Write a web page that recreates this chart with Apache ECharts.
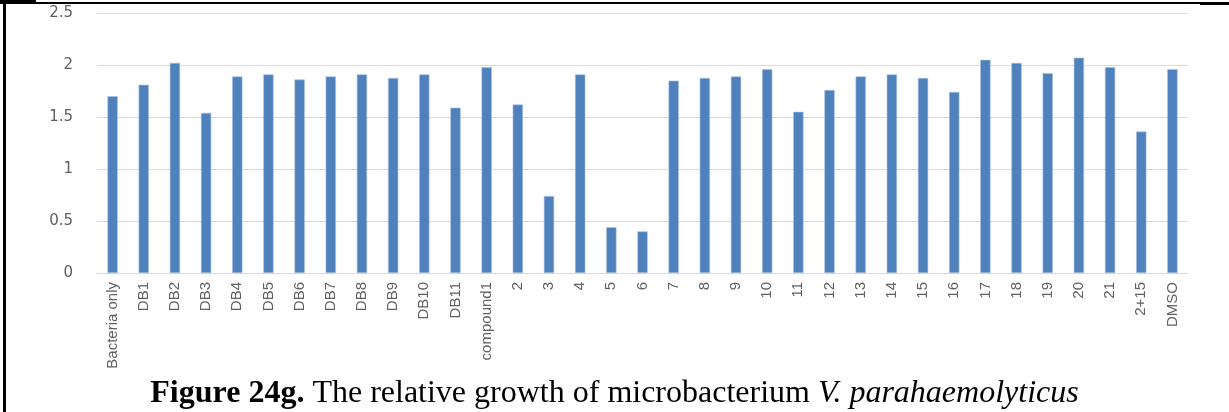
<!DOCTYPE html>
<html>
<head>
<meta charset="utf-8">
<script src="https://cdn.jsdelivr.net/npm/echarts@6/dist/echarts.min.js"></script>
<style>html,body{margin:0;padding:0;background:#fff;}#c{width:1229px;height:412px;}</style>
</head>
<body>
<div id="c"></div>
<script>
const categories = ['Bacteria only','DB1','DB2','DB3','DB4','DB5','DB6','DB7','DB8','DB9','DB10','DB11','compound1','2','3','4','5','6','7','8','9','10','11','12','13','14','15','16','17','18','19','20','21','2+15','DMSO'];
const values = [1.70,1.81,2.02,1.54,1.89,1.91,1.86,1.89,1.91,1.875,1.91,1.59,1.98,1.62,0.74,1.91,0.44,0.40,1.85,1.875,1.89,1.96,1.55,1.76,1.89,1.91,1.875,1.74,2.05,2.02,1.92,2.07,1.98,1.36,1.96];
const yTicks = [0, 0.5, 1, 1.5, 2, 2.5];

const chart = echarts.init(document.getElementById('c'), null, {renderer: 'canvas'});
chart.setOption({
  animation: false,
  backgroundColor: '#ffffff',
  title: {
    left: 'center',
    top: 373,
    text: '{b|Figure 24g.}{n| The relative growth of microbacterium }{i|V. parahaemolyticus}',
    textStyle: {
      fontWeight: 'normal',
      rich: {
        b: {fontFamily: 'Liberation Serif', fontSize: 32, fontWeight: 'bold', color: '#000'},
        n: {fontFamily: 'Liberation Serif', fontSize: 32, fontWeight: 'normal', color: '#000'},
        i: {fontFamily: 'Liberation Serif', fontSize: 32, fontWeight: 'normal', fontStyle: 'italic', color: '#000'}
      }
    }
  },
  grid: {left: 97, right: 41, top: 13, bottom: 139, containLabel: false},
  xAxis: {
    type: 'category',
    data: categories,
    axisLine: {show: true, lineStyle: {color: '#d9d9d9', width: 1}},
    axisTick: {show: false},
    axisLabel: {
      interval: 0, rotate: 90, margin: 9,
      color: '#606060', fontFamily: 'Liberation Sans', fontSize: 15
    }
  },
  yAxis: {
    type: 'value',
    min: 0, max: 2.5, interval: 0.5,
    axisLine: {show: false},
    axisTick: {show: false},
    splitLine: {lineStyle: {color: '#d9d9d9', width: 1}},
    axisLabel: {
      margin: 24, color: '#606060', fontFamily: 'DejaVu Sans', fontSize: 15,
      formatter: function (v) { return yTicks.indexOf(v) >= 0 ? String(v) : ''; }
    }
  },
  series: [{
    type: 'bar',
    data: values,
    barWidth: '33%',
    itemStyle: {color: '#4f81bd', borderColor: '#a9c1e0', borderWidth: 0.6}
  }],
  graphic: [
    {type: 'rect', shape: {x: 3, y: 0, width: 3, height: 412}, style: {fill: '#000'}},
    {type: 'rect', shape: {x: 0, y: 2, width: 1200, height: 2}, style: {fill: '#000'}},
    {type: 'rect', shape: {x: 0, y: 0, width: 36, height: 4}, style: {fill: '#000'}},
    {type: 'rect', shape: {x: 1200, y: 2, width: 29, height: 3}, style: {fill: '#000'}}
  ]
});
</script>
</body>
</html>
